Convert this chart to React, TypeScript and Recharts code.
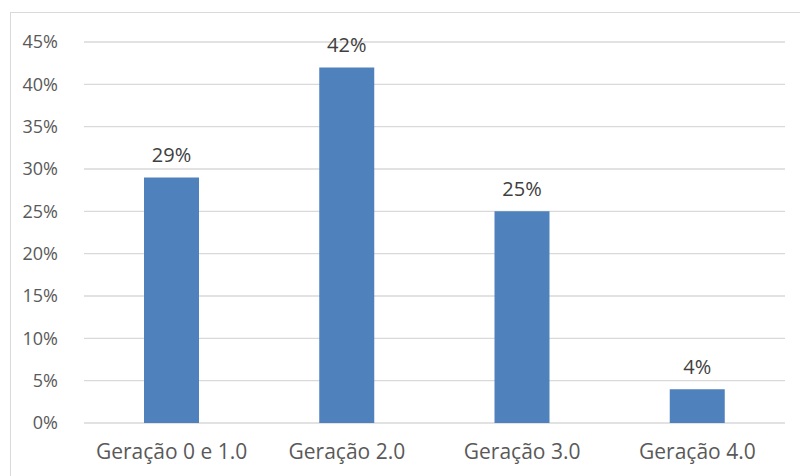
import { BarChart, Bar, XAxis, YAxis, CartesianGrid, LabelList } from "recharts";

const categories = ["Geração 0 e 1.0", "Geração 2.0", "Geração 3.0", "Geração 4.0"];
const shares = [29, 42, 25, 4];
const yTicks = [0, 5, 10, 15, 20, 25, 30, 35, 40, 45];

const data = categories.map((name, i) => ({ name, share: shares[i] }));

const pct = (v: number) => `${v}%`;

const xTick = { fill: "#595959", style: { fontSize: 21 } };
const yTick = { fill: "#595959", style: { fontSize: 18 } };

const App = () => {
  return (
    <div
      style={{
        position: "fixed",
        left: 0,
        top: 0,
        width: 800,
        height: 476,
        overflow: "hidden",
        background: "#fff",
        fontFamily: "'Open Sans', sans-serif",
      }}
    >
      <div
        style={{
          position: "absolute",
          left: 10,
          top: 12,
          width: 820,
          height: 500,
          border: "1px solid #D9D9D9",
        }}
      />
      <div style={{ position: "absolute", left: 0, top: 0 }}>
        <BarChart
          width={800}
          height={476}
          data={data}
          margin={{ top: 42, right: 15, bottom: 13, left: 0 }}
        >
          <CartesianGrid vertical={false} stroke="#D9D9D9" strokeWidth={1.3} />
          <XAxis
            dataKey="name"
            axisLine={false}
            tickLine={false}
            height={40}
            tickMargin={15}
            tick={xTick}
          />
          <YAxis
            domain={[0, 45]}
            ticks={yTicks}
            tickFormatter={pct}
            axisLine={false}
            tickLine={false}
            width={84}
            tickMargin={20}
            tick={yTick}
          />
          <Bar dataKey="share" fill="#4F81BD" barSize={55} isAnimationActive={false}>
            <LabelList
              dataKey="share"
              position="top"
              offset={15}
              formatter={pct}
              fill="#404040"
              style={{ fill: "#404040", fontSize: 20 }}
            />
          </Bar>
        </BarChart>
      </div>
    </div>
  );
};

export default App;
